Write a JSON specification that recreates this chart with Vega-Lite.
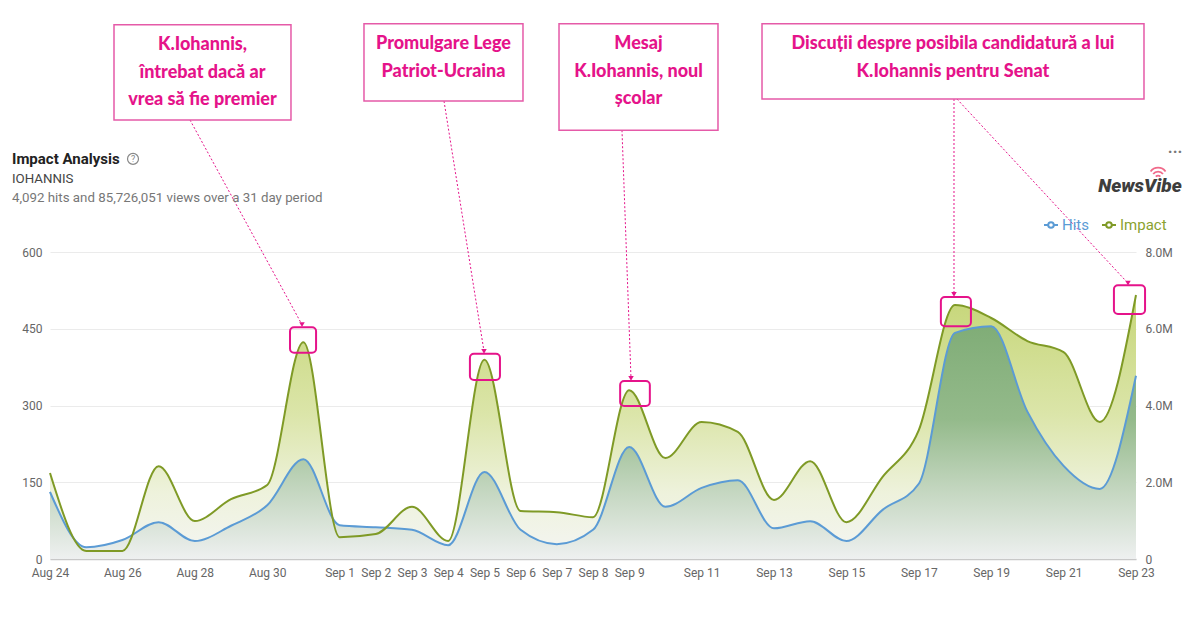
{
  "$schema": "https://vega.github.io/schema/vega-lite/v6.json",
  "width": 1086,
  "height": 307,
  "autosize": "none",
  "padding": {"left": 50, "top": 252, "right": 64, "bottom": 78},
  "background": "white",
  "config": {
    "view": {"stroke": null},
    "font": "Roboto",
    "axisX": {
      "labelFont": "Roboto",
      "labelFontSize": 12,
      "labelColor": "#666666",
      "ticks": false,
      "grid": false,
      "domain": true,
      "domainColor": "#c8c8c8",
      "domainWidth": 1.5,
      "labelPadding": 8,
      "labelFlush": false,
      "labelOverlap": false,
      "title": null
    }
  },
  "datasets": {
    "series": [
      {"date": "2024-08-24", "hits": 131, "impact": 2240000},
      {"date": "2024-08-25", "hits": 23, "impact": 210000},
      {"date": "2024-08-26", "hits": 37, "impact": 210000},
      {"date": "2024-08-27", "hits": 72, "impact": 2420000},
      {"date": "2024-08-28", "hits": 35, "impact": 990000},
      {"date": "2024-08-29", "hits": 65, "impact": 1560000},
      {"date": "2024-08-30", "hits": 105, "impact": 1930000},
      {"date": "2024-08-31", "hits": 195, "impact": 5650000},
      {"date": "2024-09-01", "hits": 66, "impact": 570000},
      {"date": "2024-09-02", "hits": 62, "impact": 650000},
      {"date": "2024-09-03", "hits": 57, "impact": 1360000},
      {"date": "2024-09-04", "hits": 27, "impact": 470000},
      {"date": "2024-09-05", "hits": 170, "impact": 5190000},
      {"date": "2024-09-06", "hits": 57, "impact": 1250000},
      {"date": "2024-09-07", "hits": 29, "impact": 1220000},
      {"date": "2024-09-08", "hits": 57, "impact": 1090000},
      {"date": "2024-09-09", "hits": 219, "impact": 4400000},
      {"date": "2024-09-10", "hits": 102, "impact": 2630000},
      {"date": "2024-09-11", "hits": 139, "impact": 3570000},
      {"date": "2024-09-12", "hits": 154, "impact": 3310000},
      {"date": "2024-09-13", "hits": 60, "impact": 1540000},
      {"date": "2024-09-14", "hits": 74, "impact": 2550000},
      {"date": "2024-09-15", "hits": 35, "impact": 960000},
      {"date": "2024-09-16", "hits": 96, "impact": 2140000},
      {"date": "2024-09-17", "hits": 147, "impact": 3360000},
      {"date": "2024-09-18", "hits": 442, "impact": 6620000},
      {"date": "2024-09-19", "hits": 455, "impact": 6280000},
      {"date": "2024-09-20", "hits": 288, "impact": 5680000},
      {"date": "2024-09-21", "hits": 182, "impact": 5390000},
      {"date": "2024-09-22", "hits": 137, "impact": 3570000},
      {"date": "2024-09-23", "hits": 358, "impact": 6880000}
    ],
    "boxes": [
      {"x1": "2024-08-25T18:26:00Z", "x2": "2024-08-30T15:46:00Z", "y1": 1044, "y2": 858, "xc": "2024-08-28T05:07:00Z", "yt": 1022, "label": "K.Iohannis,\nîntrebat dacă ar\nvrea să fie premier"},
      {"x1": "2024-09-01T16:10:00Z", "x2": "2024-09-06T01:35:00Z", "y1": 1046, "y2": 895, "xc": "2024-09-03T20:53:00Z", "yt": 1024, "label": "Promulgare Lege\nPatriot-Ucraina"},
      {"x1": "2024-09-07T01:28:00Z", "x2": "2024-09-11T10:52:00Z", "y1": 1046, "y2": 838, "xc": "2024-09-09T06:10:00Z", "yt": 1024, "label": "Mesaj\nK.Iohannis, noul\nșcolar"},
      {"x1": "2024-09-12T16:03:00Z", "x2": "2024-09-23T05:18:00Z", "y1": 1046, "y2": 899, "xc": "2024-09-17T22:41:00Z", "yt": 1024, "label": "Discuții despre posibila candidatură a lui\nK.Iohannis pentru Senat"}
    ],
    "arrows": [
      {"xs": "2024-08-27T20:49:00Z", "ys": 858, "xe": "2024-08-30T23:04:00Z", "ye": 458},
      {"xs": "2024-09-03T21:13:00Z", "ys": 895, "xe": "2024-09-04T23:44:00Z", "ye": 406},
      {"xs": "2024-09-08T19:13:00Z", "ys": 838, "xe": "2024-09-09T01:12:00Z", "ye": 353},
      {"xs": "2024-09-17T23:20:00Z", "ys": 899, "xe": "2024-09-17T23:20:00Z", "ye": 517},
      {"xs": "2024-09-18T01:19:00Z", "ys": 899, "xe": "2024-09-22T18:42:00Z", "ye": 539}
    ],
    "squares": [
      {"x1": "2024-08-30T15:07:00Z", "x2": "2024-08-31T08:24:00Z", "y1": 453, "y2": 403},
      {"x1": "2024-09-04T14:24:00Z", "x2": "2024-09-05T10:19:00Z", "y1": 401, "y2": 350},
      {"x1": "2024-09-08T18:00:00Z", "x2": "2024-09-09T13:41:00Z", "y1": 348, "y2": 299},
      {"x1": "2024-09-17T14:38:00Z", "x2": "2024-09-18T10:34:00Z", "y1": 512, "y2": 455},
      {"x1": "2024-09-22T09:22:00Z", "x2": "2024-09-23T06:00:00Z", "y1": 535, "y2": 479}
    ],
    "heading": [
      {"x": "2024-08-22T22:48:00Z", "y": 782, "t": "Impact Analysis", "kind": "title"},
      {"x": "2024-08-22T22:48:00Z", "y": 743, "t": "IOHANNIS", "kind": "query"},
      {"x": "2024-08-22T22:48:00Z", "y": 705.5, "t": "4,092 hits and 85,726,051 views over a 31 day period", "kind": "summary"}
    ],
    "help": [
      {"x": "2024-08-26T07:02:00Z", "y": 782, "t": "?"}
    ],
    "brand": [
      {"x": "2024-09-23T02:38:00Z", "y": 729, "t": "NewsVibe"}
    ],
    "signal": [
      {"x": "2024-09-23T14:38:00Z", "y": 756}
    ],
    "menu": [
      {"x": "2024-09-24T01:55:00Z", "y": 795, "t": "···"}
    ]
  },
  "encoding": {
    "x": {
      "field": "date",
      "type": "temporal",
      "title": null,
      "scale": {"type": "utc", "domain": [1724457600000, 1727049600000], "nice": false},
      "axis": {
        "values": [
          {"year": 2024, "month": 8, "date": 24, "utc": true},
          {"year": 2024, "month": 8, "date": 26, "utc": true},
          {"year": 2024, "month": 8, "date": 28, "utc": true},
          {"year": 2024, "month": 8, "date": 30, "utc": true},
          {"year": 2024, "month": 9, "date": 1, "utc": true},
          {"year": 2024, "month": 9, "date": 2, "utc": true},
          {"year": 2024, "month": 9, "date": 3, "utc": true},
          {"year": 2024, "month": 9, "date": 4, "utc": true},
          {"year": 2024, "month": 9, "date": 5, "utc": true},
          {"year": 2024, "month": 9, "date": 6, "utc": true},
          {"year": 2024, "month": 9, "date": 7, "utc": true},
          {"year": 2024, "month": 9, "date": 8, "utc": true},
          {"year": 2024, "month": 9, "date": 9, "utc": true},
          {"year": 2024, "month": 9, "date": 11, "utc": true},
          {"year": 2024, "month": 9, "date": 13, "utc": true},
          {"year": 2024, "month": 9, "date": 15, "utc": true},
          {"year": 2024, "month": 9, "date": 17, "utc": true},
          {"year": 2024, "month": 9, "date": 19, "utc": true},
          {"year": 2024, "month": 9, "date": 21, "utc": true},
          {"year": 2024, "month": 9, "date": 23, "utc": true}
        ],
        "format": "%b %-d",
        "title": null,
        "labelFont": "Roboto",
        "labelFontSize": 12,
        "labelColor": "#666666",
        "ticks": false,
        "grid": false,
        "domain": true,
        "domainColor": "#c8c8c8",
        "domainWidth": 1.5,
        "labelPadding": 8,
        "labelFlush": false,
        "labelOverlap": false
      }
    }
  },
  "layer": [
    {
      "data": {"name": "series"},
      "mark": {
        "type": "area",
        "interpolate": "monotone",
        "color": {
          "x1": 0, "y1": 0, "x2": 0, "y2": 1, "gradient": "linear",
          "stops": [
            {"offset": 0, "color": "#c6d678"},
            {"offset": 0.45, "color": "#dbe5a9"},
            {"offset": 0.75, "color": "#eef2dc"},
            {"offset": 1, "color": "#f4f5f3"}
          ]
        }
      },
      "encoding": {
        "y": {"field": "impact", "type": "quantitative", "scale": {"domain": [0, 8000000], "nice": false}, "axis": null}
      }
    },
    {
      "data": {"name": "series"},
      "encoding": {
        "y": {"field": "hits", "type": "quantitative", "scale": {"domain": [0, 600], "nice": false},
          "axis": {
            "orient": "left",
            "values": [0, 150, 300, 450, 600],
            "title": null,
            "grid": true,
            "gridColor": "#ebebeb",
            "gridWidth": 1,
            "domain": false,
            "ticks": false,
            "labelPadding": 8,
            "labelFont": "Roboto",
            "labelFontSize": 12,
            "labelColor": "#666666"
          }
        }
      },
      "layer": [
        {
          "mark": {
            "type": "area",
            "interpolate": "monotone",
            "color": {
              "x1": 0, "y1": 0, "x2": 0, "y2": 1, "gradient": "linear",
              "stops": [
                {"offset": 0, "color": "#80ad77"},
                {"offset": 0.4, "color": "#94ba8b"},
                {"offset": 0.7, "color": "#c3d6bf"},
                {"offset": 1, "color": "#eef0f0"}
              ]
            }
          }
        },
        {
          "mark": {"type": "line", "interpolate": "monotone", "strokeWidth": 2},
          "encoding": {
            "color": {"datum": "Hits", "type": "nominal"}
          }
        }
      ]
    },
    {
      "data": {"name": "series"},
      "mark": {"type": "line", "interpolate": "monotone", "strokeWidth": 2},
      "encoding": {
        "y": {"field": "impact", "type": "quantitative", "scale": {"domain": [0, 8000000], "nice": false},
          "axis": {
            "orient": "right",
            "values": [0, 2000000, 4000000, 6000000, 8000000],
            "labelExpr": "datum.value == 0 ? '0' : format(datum.value / 1000000, '.1f') + 'M'",
            "title": null,
            "grid": false,
            "domain": false,
            "ticks": false,
            "labelPadding": 9,
            "labelFont": "Roboto",
            "labelFontSize": 12,
            "labelColor": "#666666"
          }
        },
        "color": {
          "datum": "Impact",
          "type": "nominal",
          "scale": {"domain": ["Hits", "Impact"], "range": ["#5b9bd5", "#7f9a26"]},
          "legend": {
            "title": null,
            "orient": "none",
            "legendX": 993,
            "legendY": -35,
            "direction": "horizontal",
            "padding": 0,
            "symbolType": "M-1,0L-0.4,0M0.4,0L1,0M0.4,0A0.4,0.4,0,1,1,-0.4,0A0.4,0.4,0,1,1,0.4,0",
            "symbolSize": 196,
            "symbolStrokeWidth": 2,
            "symbolFillColor": "transparent",
            "labelFont": "Roboto",
            "labelFontSize": 15,
            "labelColor": {"expr": "datum.value == 'Hits' ? '#5b9bd5' : '#8aa22f'"},
            "labelOffset": 3,
            "columnPadding": 9
          }
        }
      }
    },
    {
      "layer": [
        {
          "data": {"name": "arrows"},
          "mark": {"type": "rule", "color": "#e5138a", "strokeWidth": 1, "strokeDash": [2, 2]},
          "encoding": {
            "x": {"field": "xs", "type": "temporal", "title": null, "scale": {"type": "utc", "domain": [1724457600000, 1727049600000], "nice": false}},
            "x2": {"field": "xe"},
            "y": {"field": "ys", "type": "quantitative", "scale": {"domain": [0, 600], "nice": false}, "axis": null},
            "y2": {"field": "ye"}
          }
        },
        {
          "data": {"name": "arrows"},
          "mark": {"type": "point", "shape": "triangle-down", "filled": true, "color": "#e5138a", "size": 30, "opacity": 1},
          "encoding": {
            "x": {"field": "xe", "type": "temporal", "title": null, "scale": {"type": "utc", "domain": [1724457600000, 1727049600000], "nice": false}},
            "y": {"field": "ye", "type": "quantitative", "scale": {"domain": [0, 600], "nice": false}, "axis": null}
          }
        },
        {
          "data": {"name": "boxes"},
          "mark": {"type": "rect", "fill": "white", "stroke": "#e55aa8", "strokeWidth": 1.5},
          "encoding": {
            "x": {"field": "x1", "type": "temporal", "title": null, "scale": {"type": "utc", "domain": [1724457600000, 1727049600000], "nice": false}},
            "x2": {"field": "x2"},
            "y": {"field": "y1", "type": "quantitative", "scale": {"domain": [0, 600], "nice": false}, "axis": null},
            "y2": {"field": "y2"}
          }
        },
        {
          "data": {"name": "boxes"},
          "mark": {"type": "text", "lineBreak": "\n", "lineHeight": 27.5, "align": "center", "baseline": "top", "font": "Lato", "fontWeight": 900, "fontSize": 18, "color": "#e5138a"},
          "encoding": {
            "x": {"field": "xc", "type": "temporal", "title": null, "scale": {"type": "utc", "domain": [1724457600000, 1727049600000], "nice": false}},
            "y": {"field": "yt", "type": "quantitative", "scale": {"domain": [0, 600], "nice": false}, "axis": null},
            "text": {"field": "label"}
          }
        },
        {
          "data": {"name": "squares"},
          "mark": {"type": "rect", "filled": false, "color": "#e5138a", "strokeWidth": 2, "cornerRadius": 4},
          "encoding": {
            "x": {"field": "x1", "type": "temporal", "title": null, "scale": {"type": "utc", "domain": [1724457600000, 1727049600000], "nice": false}},
            "x2": {"field": "x2"},
            "y": {"field": "y1", "type": "quantitative", "scale": {"domain": [0, 600], "nice": false}, "axis": null},
            "y2": {"field": "y2"}
          }
        },
        {
          "data": {"name": "heading"},
          "transform": [{"filter": "datum.kind == 'title'"}],
          "mark": {"type": "text", "align": "left", "baseline": "middle", "font": "Roboto", "fontWeight": "bold", "fontSize": 15, "color": "#222222"},
          "encoding": {
            "x": {"field": "x", "type": "temporal", "title": null, "scale": {"type": "utc", "domain": [1724457600000, 1727049600000], "nice": false}},
            "y": {"field": "y", "type": "quantitative", "scale": {"domain": [0, 600], "nice": false}, "axis": null},
            "text": {"field": "t"}
          }
        },
        {
          "data": {"name": "heading"},
          "transform": [{"filter": "datum.kind == 'query'"}],
          "mark": {"type": "text", "align": "left", "baseline": "middle", "font": "Roboto", "fontSize": 13.3, "color": "#444444"},
          "encoding": {
            "x": {"field": "x", "type": "temporal", "title": null, "scale": {"type": "utc", "domain": [1724457600000, 1727049600000], "nice": false}},
            "y": {"field": "y", "type": "quantitative", "scale": {"domain": [0, 600], "nice": false}, "axis": null},
            "text": {"field": "t"}
          }
        },
        {
          "data": {"name": "heading"},
          "transform": [{"filter": "datum.kind == 'summary'"}],
          "mark": {"type": "text", "align": "left", "baseline": "middle", "font": "Roboto", "fontSize": 13.3, "color": "#777777"},
          "encoding": {
            "x": {"field": "x", "type": "temporal", "title": null, "scale": {"type": "utc", "domain": [1724457600000, 1727049600000], "nice": false}},
            "y": {"field": "y", "type": "quantitative", "scale": {"domain": [0, 600], "nice": false}, "axis": null},
            "text": {"field": "t"}
          }
        },
        {
          "data": {"name": "help"},
          "mark": {"type": "point", "shape": "circle", "filled": false, "color": "#888888", "size": 120, "strokeWidth": 1.2, "opacity": 1},
          "encoding": {
            "x": {"field": "x", "type": "temporal", "title": null, "scale": {"type": "utc", "domain": [1724457600000, 1727049600000], "nice": false}},
            "y": {"field": "y", "type": "quantitative", "scale": {"domain": [0, 600], "nice": false}, "axis": null}
          }
        },
        {
          "data": {"name": "help"},
          "mark": {"type": "text", "align": "center", "baseline": "middle", "font": "Roboto", "fontSize": 9, "color": "#888888"},
          "encoding": {
            "x": {"field": "x", "type": "temporal", "title": null, "scale": {"type": "utc", "domain": [1724457600000, 1727049600000], "nice": false}},
            "y": {"field": "y", "type": "quantitative", "scale": {"domain": [0, 600], "nice": false}, "axis": null},
            "text": {"field": "t"}
          }
        },
        {
          "data": {"name": "brand"},
          "mark": {"type": "text", "align": "center", "baseline": "middle", "font": "Roboto", "fontWeight": 900, "fontStyle": "italic", "fontSize": 19, "color": "#3d3d3d"},
          "encoding": {
            "x": {"field": "x", "type": "temporal", "title": null, "scale": {"type": "utc", "domain": [1724457600000, 1727049600000], "nice": false}},
            "y": {"field": "y", "type": "quantitative", "scale": {"domain": [0, 600], "nice": false}, "axis": null},
            "text": {"field": "t"}
          }
        },
        {
          "data": {"name": "signal"},
          "mark": {"type": "point", "shape": "M-1,-0.1A1.25,1.25,0,0,1,1,-0.1M-0.65,0.25A0.8,0.8,0,0,1,0.65,0.25M-0.3,0.6A0.4,0.4,0,0,1,0.3,0.6", "filled": false, "color": "#f06a8a", "size": 225, "strokeWidth": 1.8, "opacity": 1},
          "encoding": {
            "x": {"field": "x", "type": "temporal", "title": null, "scale": {"type": "utc", "domain": [1724457600000, 1727049600000], "nice": false}},
            "y": {"field": "y", "type": "quantitative", "scale": {"domain": [0, 600], "nice": false}, "axis": null}
          }
        },
        {
          "data": {"name": "menu"},
          "mark": {"type": "text", "align": "center", "baseline": "middle", "font": "Roboto", "fontWeight": "bold", "fontSize": 16, "color": "#777777"},
          "encoding": {
            "x": {"field": "x", "type": "temporal", "title": null, "scale": {"type": "utc", "domain": [1724457600000, 1727049600000], "nice": false}},
            "y": {"field": "y", "type": "quantitative", "scale": {"domain": [0, 600], "nice": false}, "axis": null},
            "text": {"field": "t"}
          }
        }
      ]
    }
  ],
  "resolve": {"scale": {"y": "independent"}}
}
